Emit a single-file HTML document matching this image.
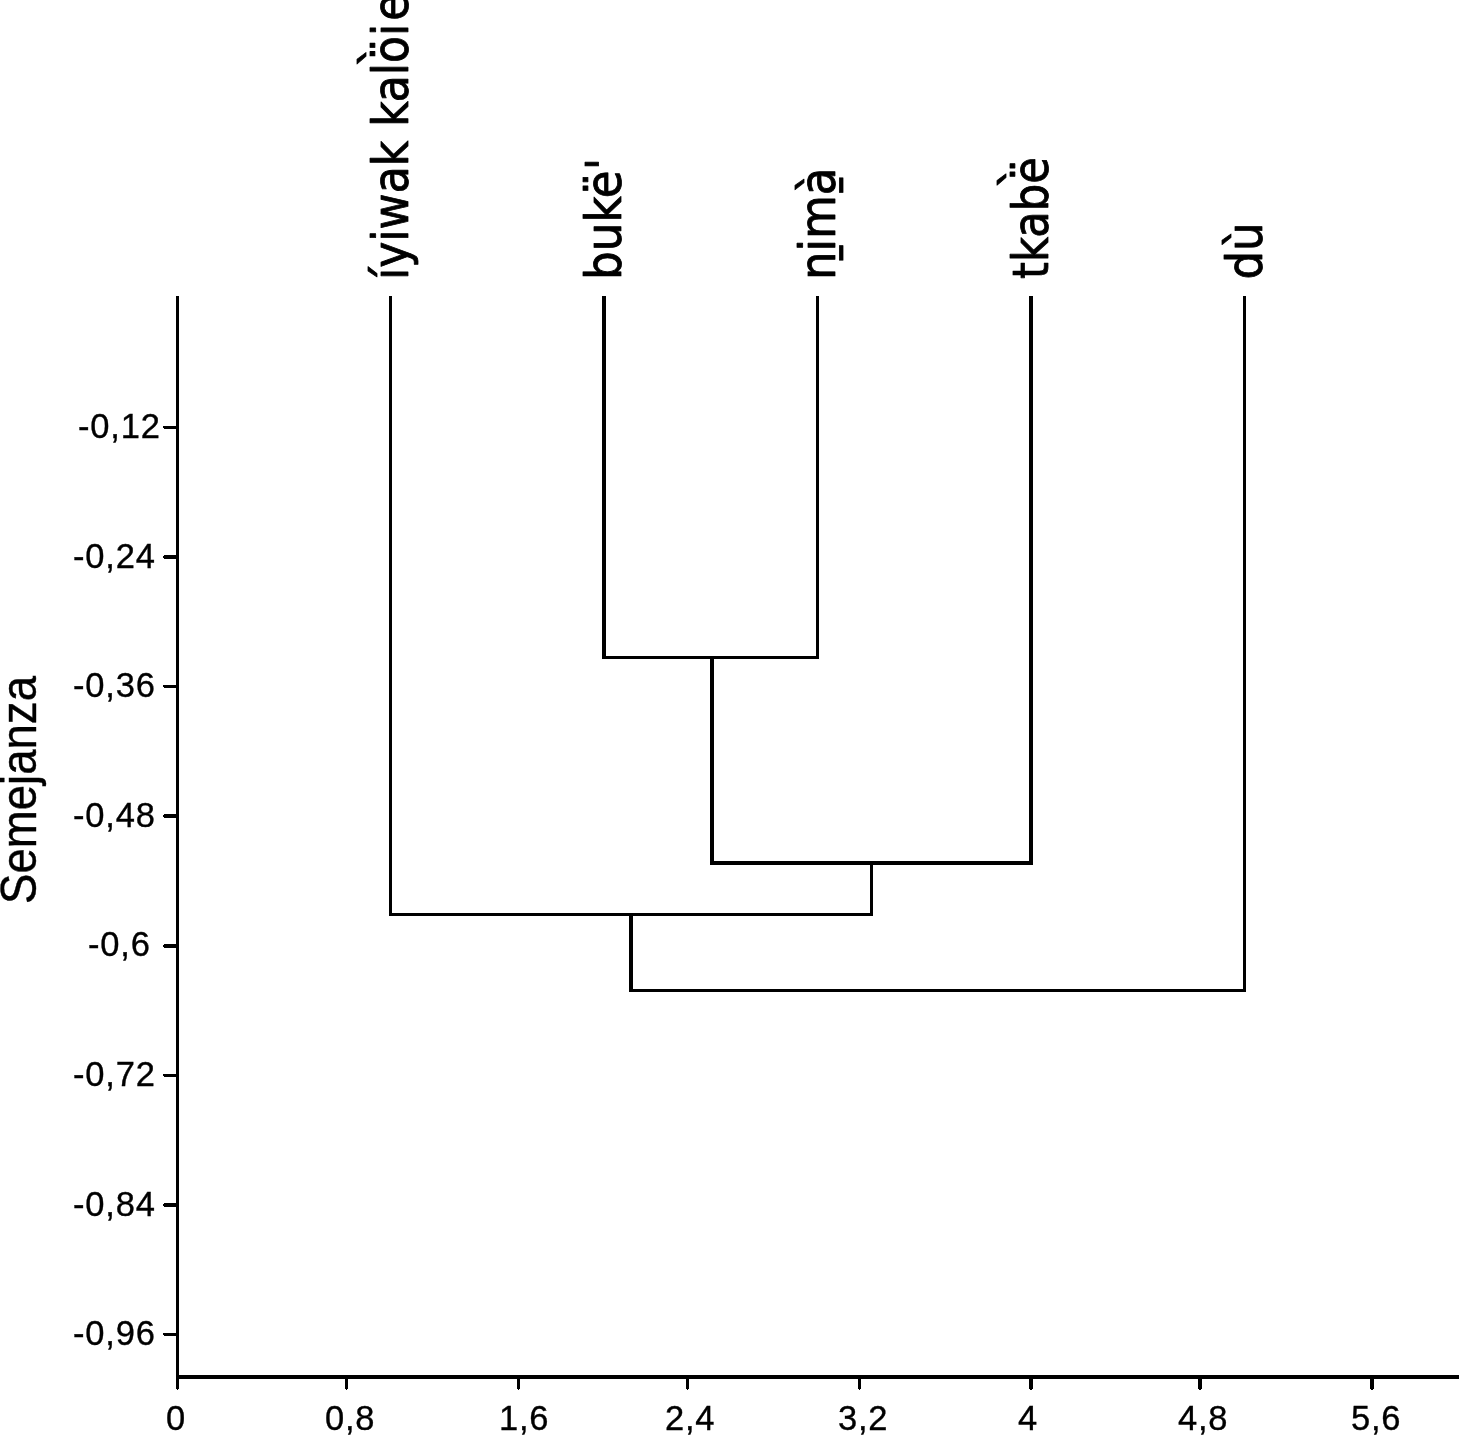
<!DOCTYPE html>
<html lang="es"><head><meta charset="utf-8"><title>Dendrograma</title>
<style>html,body{margin:0;padding:0;background:#fff;overflow:hidden}svg{display:block}</style></head>
<body>
<svg width="1459" height="1435" viewBox="0 0 1459 1435">
<g fill="#000" shape-rendering="crispEdges">
<rect x="176" y="296" width="3" height="1093"/>
<rect x="177" y="1389" width="1" height="1"/>
<rect x="176" y="1375" width="1283" height="4"/>
<rect x="345" y="1379" width="3" height="10"/>
<rect x="346" y="1389" width="1" height="1"/>
<rect x="517" y="1379" width="3" height="10"/>
<rect x="518" y="1389" width="1" height="1"/>
<rect x="686" y="1379" width="3" height="10"/>
<rect x="687" y="1389" width="1" height="1"/>
<rect x="858" y="1379" width="3" height="10"/>
<rect x="859" y="1389" width="1" height="1"/>
<rect x="1029" y="1379" width="4" height="10"/>
<rect x="1030" y="1389" width="2" height="1"/>
<rect x="1198" y="1379" width="4" height="10"/>
<rect x="1199" y="1389" width="2" height="1"/>
<rect x="1370" y="1379" width="4" height="10"/>
<rect x="1371" y="1389" width="2" height="1"/>
<rect x="164" y="426" width="12" height="3"/>
<rect x="163" y="426" width="1" height="2"/>
<rect x="164" y="555" width="12" height="4"/>
<rect x="163" y="556" width="1" height="2"/>
<rect x="164" y="685" width="12" height="3"/>
<rect x="163" y="685" width="1" height="2"/>
<rect x="164" y="814" width="12" height="4"/>
<rect x="163" y="815" width="1" height="2"/>
<rect x="164" y="944" width="12" height="4"/>
<rect x="163" y="945" width="1" height="2"/>
<rect x="164" y="1074" width="12" height="3"/>
<rect x="163" y="1074" width="1" height="2"/>
<rect x="164" y="1203" width="12" height="4"/>
<rect x="163" y="1204" width="1" height="2"/>
<rect x="164" y="1333" width="12" height="3"/>
<rect x="163" y="1333" width="1" height="2"/>
<rect x="389" y="296" width="3" height="620"/>
<rect x="602" y="296" width="4" height="363"/>
<rect x="816" y="296" width="3" height="363"/>
<rect x="1029" y="296" width="4" height="569"/>
<rect x="1243" y="296" width="3" height="696"/>
<rect x="602" y="656" width="217" height="3"/>
<rect x="710" y="656" width="4" height="209"/>
<rect x="710" y="861" width="323" height="4"/>
<rect x="870" y="861" width="3" height="55"/>
<rect x="389" y="913" width="484" height="3"/>
<rect x="629" y="913" width="4" height="79"/>
<rect x="629" y="989" width="617" height="3"/>
</g>
<g font-family="'DejaVu Sans Condensed','DejaVu Sans',sans-serif" font-stretch="condensed" font-size="49" fill="#000" stroke="#000" stroke-width="0.8" stroke-linejoin="round">
<text transform="translate(408,280) rotate(-90) scale(1.0,1)">íyiwak kalö<tspan font-family="'DejaVu Sans',sans-serif" font-stretch="normal" dx="-7.5" dy="-11.5">̀</tspan><tspan dx="7.5" dy="11.5">i</tspan><tspan dx="3">e</tspan></text>
<text transform="translate(621,280) rotate(-90) scale(1.027,1)">bukë'</text>
<text transform="translate(835,280) rotate(-90) scale(1.02,1)">ni<tspan font-family="'DejaVu Sans',sans-serif" font-stretch="normal" dx="-1.5" dy="0">̱</tspan><tspan dx="1.5" dy="0">mà</tspan><tspan font-family="'DejaVu Sans',sans-serif" font-stretch="normal" dx="-5" dy="0">̱</tspan></text>
<text transform="translate(1048,279) rotate(-90) scale(0.983,1)">tkabë<tspan font-family="'DejaVu Sans',sans-serif" font-stretch="normal" dx="-8" dy="-11.5">̀</tspan></text>
<text transform="translate(1262,279.5) rotate(-90) scale(1.02,1)">dù</text>
</g>
<g font-family="'Liberation Sans',sans-serif" font-size="34.5" letter-spacing="0.8" fill="#000" stroke="#000" stroke-width="0.35">
<text x="78" y="438.0">-0,12</text>
<text x="73" y="567.6">-0,24</text>
<text x="73" y="697.2">-0,36</text>
<text x="73" y="826.8">-0,48</text>
<text x="88" y="956.4">-0,6</text>
<text x="73" y="1086.0">-0,72</text>
<text x="73" y="1215.6">-0,84</text>
<text x="73" y="1345.2">-0,96</text>
<text x="166" y="1430">0</text>
<text x="325" y="1430">0,8</text>
<text x="499" y="1430">1,6</text>
<text x="665" y="1430">2,4</text>
<text x="838" y="1430">3,2</text>
<text x="1018" y="1430">4</text>
<text x="1178" y="1430">4,8</text>
<text x="1351" y="1430">5,6</text>
</g>
<text font-family="'Liberation Sans',sans-serif" font-size="50" stroke="#000" stroke-width="0.4" transform="translate(36,904) rotate(-90)" textLength="228" lengthAdjust="spacingAndGlyphs">Semejanza</text>
</svg>
</body></html>
